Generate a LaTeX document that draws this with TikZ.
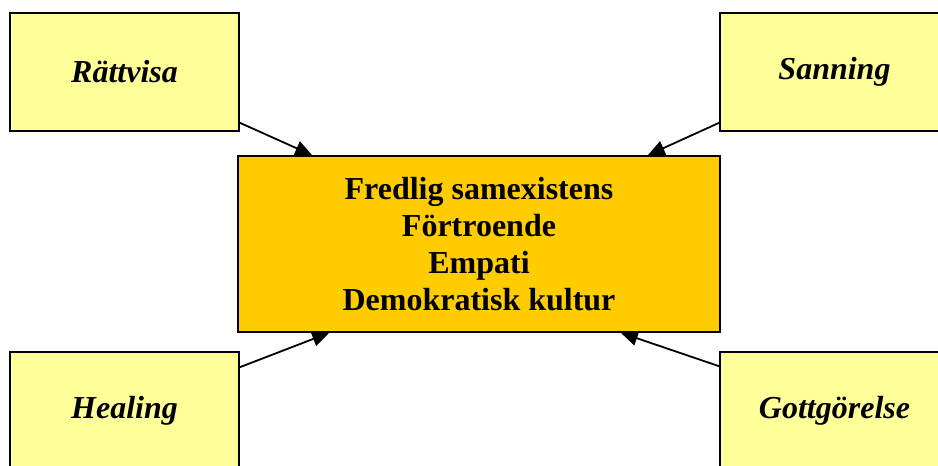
\documentclass[tikz,border=0pt]{standalone}
\usepackage{fontspec}
\setmainfont{Liberation Serif}
\usetikzlibrary{arrows.meta,calc,positioning}
\definecolor{paleyellow}{HTML}{FFFF99}
\definecolor{goldyellow}{HTML}{FFCC00}
\tikzset{%
	value/.style  = {draw, line width=1.5pt, rectangle, fill=paleyellow, minimum width=229pt, minimum height=118pt, font=\fontsize{32}{37}\selectfont\bfseries\itshape}, % Value box
	core/.style   = {draw, line width=1.5pt, rectangle, fill=goldyellow, minimum width=482pt, minimum height=176pt, align=center, font=\fontsize{32}{37}\selectfont\bfseries}, % Centre box
	arrow/.style  = {line width=1.8pt, -{Triangle[length=17pt,width=15pt]}},
}
\begin{document}
\begin{tikzpicture}[x=1pt,y=1pt]
	\useasboundingbox (0,0) rectangle (938,466);
	\begin{scope}
	\clip (0,0) rectangle (938,466);
	\node [core] (core) at (479,222) {Fredlig samexistens\\Förtroende\\Empati\\Demokratisk kultur};
	\node [value] (rv) at (124.5,394) {Rättvisa};
	\node [value] (sn) at (834.5,394) {Sanning};
	\node [value] (hl) at (124.5,55) {Healing};
	\node [value] (gg) at (834.5,55) {Gottgörelse};

	\draw[arrow] ([yshift=9pt]rv.south east) -- ([xshift=75pt]core.north west);
	\draw[arrow] ([yshift=9pt]sn.south west) -- ([xshift=-73pt]core.north east);
	\draw[arrow] ([yshift=-16pt]hl.north east) -- ([xshift=92pt]core.south west);
	\draw[arrow] ([yshift=-15pt]gg.north west) -- ([xshift=-100pt]core.south east);
	\end{scope}
\end{tikzpicture}
\end{document}
